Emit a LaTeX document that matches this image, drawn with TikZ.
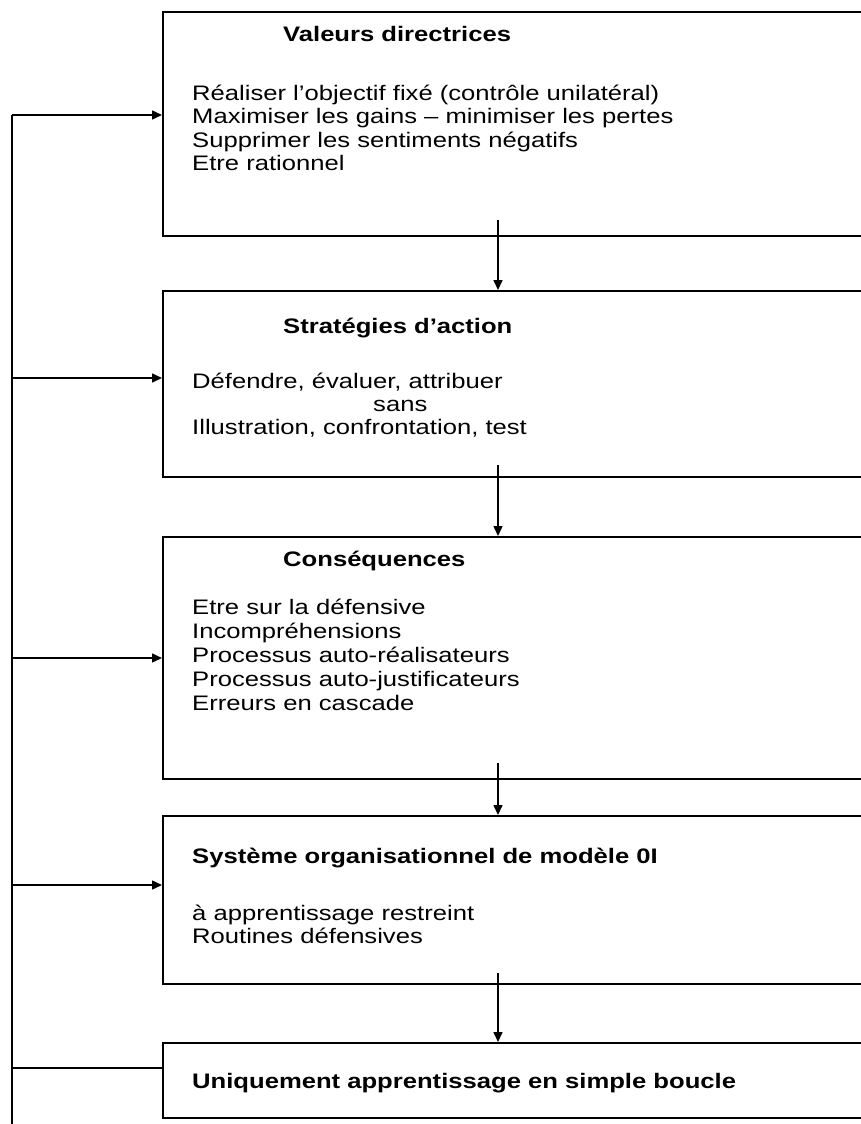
\documentclass[tikz,border=0pt]{standalone}
\usepackage{fontspec}
\setmainfont[FakeStretch=1.22]{Liberation Sans}
\usetikzlibrary{arrows.meta}

\tikzset{
  cadre/.style={draw, line width=2pt, rectangle, anchor=north west, minimum width=720pt, inner sep=0pt},
  titre/.style={anchor=base west, inner sep=0pt, font=\fontsize{21}{24}\selectfont\bfseries},
  corps/.style={anchor=base west, inner sep=0pt},
  trait/.style={line width=1.5pt},
  fleche/.style={line width=1.5pt, -{Triangle[length=10pt,width=9pt]}},
}

\begin{document}
\begin{tikzpicture}[x=1pt, y=-1pt, font=\fontsize{21}{24}\selectfont]
\useasboundingbox (0,0) rectangle (861,1124);
\clip (0,0) rectangle (861,1124);

\node[cadre, minimum height=224pt] (valeurs) at (162,11) {};
\node[cadre, minimum height=186pt] (strategies) at (162,290) {};
\node[cadre, minimum height=242pt] (consequences) at (162,536) {};
\node[cadre, minimum height=168pt] (systeme) at (162,815) {};
\node[cadre, minimum height=75pt] (boucle) at (162,1042) {};

\node[titre] (tvaleurs) at (283,42) {Valeurs directrices};
\foreach \ligne [count=\i from 0] in {Réaliser l’objectif fixé (contrôle unilatéral), Maximiser les gains – minimiser les pertes, Supprimer les sentiments négatifs, Etre rationnel}
	\node[corps] (lv\i) at (192,{100+23.5*\i}) {\ligne};

\node[titre] (tstrategies) at (283,333) {Stratégies d’action};
\node[corps] (ls0) at (192,388) {Défendre, évaluer, attribuer};
\node[corps] (ls1) at (373,411) {sans};
\node[corps] (ls2) at (192,434) {Illustration, confrontation, test};

\node[titre] (tconsequences) at (283,566) {Conséquences};
\foreach \ligne [count=\i from 0] in {Etre sur la défensive, Incompréhensions, Processus auto-réalisateurs, Processus auto-justificateurs, Erreurs en cascade}
	\node[corps] (lc\i) at (192,{614+24*\i}) {\ligne};

\node[titre] (tsysteme) at (192,863) {Système organisationnel de modèle 0I};
\node[corps] (lm0) at (192,920) {à apprentissage restreint};
\node[corps] (lm1) at (192,943) {Routines défensives};

\node[titre] (tboucle) at (192,1088) {Uniquement apprentissage en simple boucle};

\coordinate (d1) at (498,220);
\coordinate (d2) at (498,465);
\coordinate (d3) at (498,763);
\coordinate (d4) at (498,973);
\draw[fleche] (d1) -- (d1 |- strategies.north);
\draw[fleche] (d2) -- (d2 |- consequences.north);
\draw[fleche] (d3) -- (d3 |- systeme.north);
\draw[fleche] (d4) -- (d4 |- boucle.north);

\coordinate (g1) at (12,115);
\coordinate (g2) at (12,378);
\coordinate (g3) at (12,658);
\coordinate (g4) at (12,885);
\coordinate (g5) at (12,1068);
\coordinate (bas) at (12,1124);
\draw[trait] (g1) -- (bas);
\draw[fleche] (g1) -- (g1 -| valeurs.west);
\draw[fleche] (g2) -- (g2 -| strategies.west);
\draw[fleche] (g3) -- (g3 -| consequences.west);
\draw[fleche] (g4) -- (g4 -| systeme.west);
\draw[trait] (g5) -- (g5 -| boucle.west);
\end{tikzpicture}
\end{document}
